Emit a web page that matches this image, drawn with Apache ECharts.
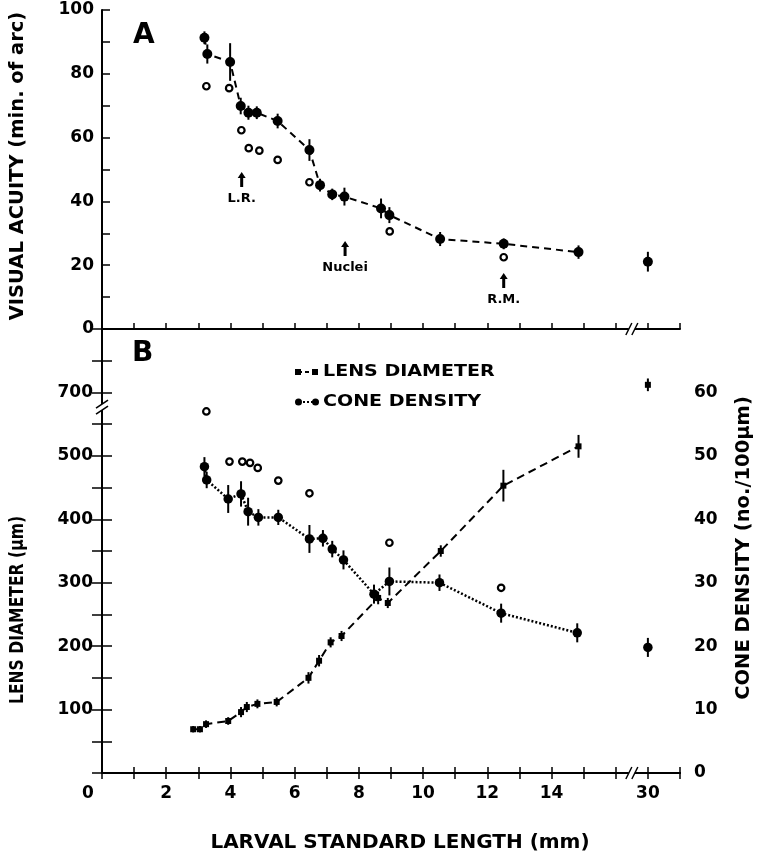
<!DOCTYPE html>
<html><head><meta charset="utf-8">
<script src="https://cdn.jsdelivr.net/npm/echarts@6/dist/echarts.min.js"></script>
<style>html,body{margin:0;padding:0;background:#fff}#c{width:757px;height:862px}</style>
</head><body><div id="c"></div>
<script>
// ---------- Panel A : visual acuity (min. of arc) ----------
const acuityX   = [3.19, 3.28, 3.99, 4.32, 4.56, 4.82, 5.47, 6.46, 6.79, 7.17, 7.55, 8.69, 8.95, 10.53, 12.51, 14.84, 30];
const acuityY   = [91.3, 86.2, 83.7, 69.9, 67.8, 67.8, 65.2, 56.1, 45.1, 42.2, 41.5, 37.8, 35.7, 28.2, 26.7, 24.1, 21.1];
const acuityErr = [2.0, 3.0, 5.9, 2.6, 2.2, 2.0, 2.3, 3.4, 2.0, 1.8, 2.8, 3.1, 2.5, 2.2, 1.7, 2.1, 3.1];
const acuityOpenX = [3.25, 3.96, 4.34, 4.57, 4.90, 5.47, 6.46, 8.96, 12.51];
const acuityOpenY = [76.1, 75.5, 62.3, 56.7, 55.9, 53.0, 46.0, 30.6, 22.5];
const annotX    = [4.35, 7.57, 12.51];
const annotY    = [46.9, 25.2, 15.2];
const annotText = ['L.R.', 'Nuclei', 'R.M.'];

// ---------- Panel B : lens diameter (µm) ----------
const lensX   = [2.84, 3.05, 3.24, 3.93, 4.33, 4.51, 4.84, 5.44, 6.43, 6.76, 7.12, 7.46, 8.60, 8.90, 10.55, 12.50, 14.84, 30];
const lensY   = [69, 69, 77, 82, 96, 104, 109, 112, 150, 177, 206, 216, 276, 268, 350, 453, 515, 712];
const lensErr = [5, 5, 6, 6, 8, 8, 7, 7, 9, 9, 8, 8, 10, 8, 9, 25, 18, 10];

// ---------- Panel B : cone density (no./100µm) ----------
const coneX   = [3.19, 3.26, 3.93, 4.33, 4.55, 4.87, 5.49, 6.46, 6.88, 7.17, 7.52, 8.47, 8.95, 10.51, 12.43, 14.80, 30];
const coneY   = [48.3, 46.2, 43.2, 44.0, 41.2, 40.3, 40.3, 36.9, 37.0, 35.3, 33.6, 28.2, 30.2, 30.0, 25.2, 22.1, 19.8];
const coneErr = [1.5, 1.3, 2.2, 2.0, 2.2, 1.3, 1.2, 2.2, 1.3, 1.3, 1.5, 1.5, 2.2, 1.3, 1.5, 1.5, 1.5];
const coneOpenX = [3.25, 3.97, 4.37, 4.61, 4.85, 5.49, 6.46, 8.95, 12.43];
const coneOpenY = [57.0, 49.1, 49.1, 48.9, 48.1, 46.1, 44.1, 36.3, 29.2];

// ---------- tick labels ----------
const xLabelVals   = [0, 2, 4, 6, 8, 10, 12, 14, 30];
const acuityLabels = [0, 20, 40, 60, 80, 100];
const lensLabels   = [100, 200, 300, 400, 500, 700];
const coneLabels   = [0, 10, 20, 30, 40, 50, 60];

// axis breaks: x 16 -> 30 ; lens 600 -> 700
const xPos = v => (v > 16 ? 17 + (v - 30) : v);
const lensPos = v => (v > 600 ? v - 100 : v);

const FONT = '"DejaVu Sans", "Liberation Sans", sans-serif';
const BLK = '#000';

const pts = (xs, ys, keep) => xs.map((x, i) => [xPos(x), ys[i]]).filter((p, i) => keep(xs[i]));
const errs = (xs, ys, es, f) => xs.map((x, i) => [xPos(x), f(ys[i] - es[i]), f(ys[i] + es[i])]);

function errRender(params, api) {
  const p1 = api.coord([api.value(0), api.value(1)]);
  const p2 = api.coord([api.value(0), api.value(2)]);
  return {type: 'line', shape: {x1: p1[0], y1: p1[1], x2: p2[0], y2: p2[1]},
          style: {stroke: BLK, lineWidth: 2}};
}
function breakHRender(params, api) {
  const p = api.coord([api.value(0), api.value(1)]);
  const ch = [{type: 'rect', shape: {x: p[0] - 3, y: p[1] - 2, width: 6, height: 4}, style: {fill: '#fff'}}];
  [-3, 3].forEach(d => ch.push({type: 'line', shape: {x1: p[0] + d - 3, y1: p[1] + 6, x2: p[0] + d + 3, y2: p[1] - 6},
    style: {stroke: BLK, lineWidth: 1.5}}));
  return {type: 'group', children: ch};
}
function breakVRender(params, api) {
  const p = api.coord([api.value(0), api.value(1)]);
  const ch = [{type: 'rect', shape: {x: p[0] - 2, y: p[1] - 3, width: 4, height: 6}, style: {fill: '#fff'}}];
  [-3, 3].forEach(d => ch.push({type: 'line', shape: {x1: p[0] - 6, y1: p[1] + d + 4, x2: p[0] + 6, y2: p[1] + d - 4},
    style: {stroke: BLK, lineWidth: 1.5}}));
  return {type: 'group', children: ch};
}

const labelFont = {fontFamily: FONT, fontWeight: 'bold', fontSize: 17, color: BLK};
const axLine = {show: true, lineStyle: {color: BLK, width: 2}};
const tick = len => ({show: true, inside: true, length: len, lineStyle: {color: BLK, width: 1.5}});
const solid = {color: BLK, opacity: 1};
const hollow = {color: '#fff', borderColor: BLK, borderWidth: 2.2, opacity: 1};

const chart = echarts.init(document.getElementById('c'), null, {renderer: 'canvas'});
chart.setOption({
  animation: false,
  backgroundColor: '#fff',
  grid: [
    {left: 102, top: 10, width: 578, height: 319, outerBoundsMode: 'none'},
    {left: 102, top: 329, width: 578, height: 444, outerBoundsMode: 'none'}
  ],
  xAxis: [
    {gridIndex: 0, type: 'value', min: 0, max: 18, interval: 1, position: 'bottom',
     axisLine: axLine, axisTick: tick(6), axisLabel: {show: false}, splitLine: {show: false}},
    {gridIndex: 1, type: 'value', min: 0, max: 18, interval: 1, position: 'bottom',
     axisLine: axLine, axisTick: tick(6), splitLine: {show: false},
     axisLabel: Object.assign({}, labelFont, {margin: 12, showMinLabel: true, showMaxLabel: true,
       formatter: v => { const l = xLabelVals.find(t => xPos(t) === v); if (l === undefined) return ''; return l === 0 ? '{z|0}' : String(l); },
       rich: {z: Object.assign({}, labelFont, {padding: [0, 28, 0, 0]})}})},
    {gridIndex: 1, type: 'value', min: 0, max: 18, interval: 1, position: 'top',
     axisLine: axLine, axisTick: tick(6), axisLabel: {show: false}, splitLine: {show: false}}
  ],
  yAxis: [
    {gridIndex: 0, type: 'value', min: 0, max: 100, interval: 10, position: 'left',
     axisLine: axLine, axisTick: tick(8), splitLine: {show: false},
     axisLabel: Object.assign({}, labelFont, {margin: 8, formatter: v => acuityLabels.includes(v) ? String(v) : ''})},
    {gridIndex: 1, type: 'value', min: 0, max: 700, interval: 50, position: 'left',
     axisLine: axLine, axisTick: tick(10), splitLine: {show: false},
     axisLabel: Object.assign({}, labelFont, {margin: 9, formatter: v => { const l = lensLabels.find(t => lensPos(t) === v); return l === undefined ? '' : String(l); }})},
    {gridIndex: 1, type: 'value', min: 0, max: 70, interval: 5, position: 'right',
     axisLine: axLine, axisTick: tick(10), splitLine: {show: false},
     axisLabel: Object.assign({}, labelFont, {margin: 14, formatter: v => coneLabels.includes(v) ? String(v) : ''})}
  ],
  series: [
    // ---- Panel A ----
    {type: 'custom', xAxisIndex: 0, yAxisIndex: 0, renderItem: errRender, z: 2,
     data: errs(acuityX, acuityY, acuityErr, v => v)},
    {type: 'line', xAxisIndex: 0, yAxisIndex: 0, data: pts(acuityX, acuityY, x => x <= 16),
     symbol: 'circle', symbolSize: 10, showAllSymbol: true, z: 3,
     lineStyle: {color: BLK, width: 2, type: [7, 5]}, itemStyle: solid},
    {type: 'scatter', xAxisIndex: 0, yAxisIndex: 0, data: pts(acuityX, acuityY, x => x > 16),
     symbol: 'circle', symbolSize: 10, itemStyle: solid, z: 3},
    {type: 'scatter', xAxisIndex: 0, yAxisIndex: 0, data: pts(acuityOpenX, acuityOpenY, () => true),
     symbol: 'circle', symbolSize: 6.5, itemStyle: hollow, z: 3},
    {type: 'scatter', xAxisIndex: 0, yAxisIndex: 0, z: 3,
     symbol: 'path://M4,0 L8,6 L5.5,6 L5.5,15 L2.5,15 L2.5,6 L0,6 Z', symbolSize: [8, 15],
     itemStyle: solid,
     data: annotX.map((x, i) => ({value: [x, annotY[i]], label: {formatter: annotText[i]}})),
     label: {show: true, position: 'bottom', distance: 5, fontFamily: FONT, fontWeight: 'bold', fontSize: 13, color: BLK, opacity: 1}},
    // ---- Panel B : lens ----
    {type: 'custom', xAxisIndex: 1, yAxisIndex: 1, renderItem: errRender, z: 2,
     data: errs(lensX, lensY, lensErr, lensPos)},
    {type: 'line', xAxisIndex: 1, yAxisIndex: 1, data: pts(lensX, lensY.map(lensPos), x => x <= 16),
     symbol: 'rect', symbolSize: 6, showAllSymbol: true, z: 3,
     lineStyle: {color: BLK, width: 2, type: [8, 5]}, itemStyle: solid},
    {type: 'scatter', xAxisIndex: 1, yAxisIndex: 1, data: pts(lensX, lensY.map(lensPos), x => x > 16),
     symbol: 'rect', symbolSize: 6, itemStyle: solid, z: 3},
    // ---- Panel B : cone ----
    {type: 'custom', xAxisIndex: 1, yAxisIndex: 2, renderItem: errRender, z: 2,
     data: errs(coneX, coneY, coneErr, v => v)},
    {type: 'line', xAxisIndex: 1, yAxisIndex: 2, data: pts(coneX, coneY, x => x <= 16),
     symbol: 'circle', symbolSize: 9.5, showAllSymbol: true, z: 3,
     lineStyle: {color: BLK, width: 2.5, type: [2, 2]}, itemStyle: solid},
    {type: 'scatter', xAxisIndex: 1, yAxisIndex: 2, data: pts(coneX, coneY, x => x > 16),
     symbol: 'circle', symbolSize: 9.5, itemStyle: solid, z: 3},
    {type: 'scatter', xAxisIndex: 1, yAxisIndex: 2, data: pts(coneOpenX, coneOpenY, () => true),
     symbol: 'circle', symbolSize: 6.5, itemStyle: hollow, z: 3},
    // ---- axis break marks ----
    {type: 'custom', xAxisIndex: 1, yAxisIndex: 2, renderItem: breakHRender, z: 10, clip: false,
     data: [[16.5, 0], [16.5, 70]]},
    {type: 'custom', xAxisIndex: 1, yAxisIndex: 1, renderItem: breakVRender, z: 10, clip: false,
     data: [[0, 577]]}
  ],
  graphic: [
    {type: 'text', left: 133, top: 22, style: {text: 'A', font: 'bold 28px ' + FONT, fill: BLK}},
    {type: 'text', left: 132, top: 340, style: {text: 'B', font: 'bold 28px ' + FONT, fill: BLK}},
    {type: 'text', x: 18, y: 166, rotation: Math.PI / 2,
     style: {text: 'VISUAL ACUITY (min. of arc)', font: 'bold 19.5px ' + FONT, fill: BLK,
             align: 'center', verticalAlign: 'middle', textAlign: 'center', textVerticalAlign: 'middle'}},
    {type: 'text', x: 18, y: 610, rotation: Math.PI / 2, scaleX: 0.8,
     style: {text: 'LENS DIAMETER (µm)', font: 'bold 19.5px ' + FONT, fill: BLK,
             align: 'center', verticalAlign: 'middle', textAlign: 'center', textVerticalAlign: 'middle'}},
    {type: 'text', x: 744, y: 548, rotation: Math.PI / 2,
     style: {text: 'CONE DENSITY (no./100µm)', font: 'bold 19.5px ' + FONT, fill: BLK,
             align: 'center', verticalAlign: 'middle', textAlign: 'center', textVerticalAlign: 'middle'}},
    {type: 'text', x: 400, y: 843,
     style: {text: 'LARVAL STANDARD LENGTH (mm)', font: 'bold 20px ' + FONT, fill: BLK,
             align: 'center', verticalAlign: 'middle', textAlign: 'center', textVerticalAlign: 'middle'}},
    // legend
    {type: 'line', shape: {x1: 298, y1: 372, x2: 315, y2: 372}, style: {stroke: BLK, lineWidth: 2, lineDash: [4, 3]}},
    {type: 'rect', shape: {x: 295, y: 369, width: 6, height: 6}, style: {fill: BLK}},
    {type: 'rect', shape: {x: 312, y: 369, width: 6, height: 6}, style: {fill: BLK}},
    {type: 'text', x: 323, y: 372, scaleX: 1.19,
     style: {text: 'LENS DIAMETER', font: 'bold 16px ' + FONT, fill: BLK, verticalAlign: 'middle', textVerticalAlign: 'middle'}},
    {type: 'line', shape: {x1: 299, y1: 402, x2: 315, y2: 402}, style: {stroke: BLK, lineWidth: 2, lineDash: [2, 2]}},
    {type: 'circle', shape: {cx: 298.5, cy: 402, r: 3.5}, style: {fill: BLK}},
    {type: 'circle', shape: {cx: 315.5, cy: 402, r: 3.5}, style: {fill: BLK}},
    {type: 'text', x: 323, y: 402, scaleX: 1.19,
     style: {text: 'CONE DENSITY', font: 'bold 16px ' + FONT, fill: BLK, verticalAlign: 'middle', textVerticalAlign: 'middle'}}
  ]
});
</script></body></html>
